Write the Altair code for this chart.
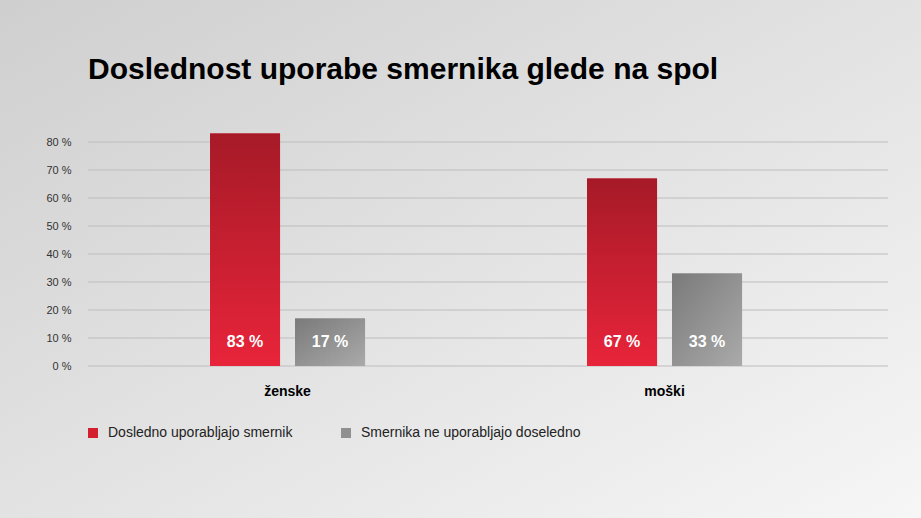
import altair as alt
import pandas as pd

# ---- data ----
categories = ["ženske", "moški"]
series = ["Dosledno uporabljajo smernik", "Smernika ne uporabljajo doseledno"]
values_dosledno = [83, 67]
values_ne = [17, 33]
y_ticks = [0, 10, 20, 30, 40, 50, 60, 70, 80]

rows = []
for c, a, b in zip(categories, values_dosledno, values_ne):
    rows.append({"spol": c, "serija": series[0], "vrednost": a, "oznaka": f"{a} %"})
    rows.append({"spol": c, "serija": series[1], "vrednost": b, "oznaka": f"{b} %"})
df = pd.DataFrame(rows)
grid_df = pd.DataFrame({"vrednost": y_ticks})

W, H = 800, 224
PADL, PADT = 88, 142
FONT = "Liberation Sans"

x_enc = alt.X("spol:N", sort=categories, title=None,
              scale=alt.Scale(paddingInner=0, paddingOuter=0.061, align=0.24),
              axis=alt.Axis(labelFontSize=14, labelFontWeight="bold", labelColor="#000000",
                            labelFont=FONT, labelPadding=18, ticks=False, domain=False,
                            labelAngle=0, zindex=1))
xoff_enc = alt.XOffset("serija:N", sort=series,
                       scale=alt.Scale(range=[111, 266], paddingInner=0.1765, paddingOuter=0))
y_scale = alt.Scale(domain=[0, 80], nice=False)
y_axis = alt.Axis(values=y_ticks, labelExpr="datum.value + ' %'",
                  labelFontSize=11, labelColor="#333333", labelFont=FONT,
                  labelPadding=17, ticks=False, domain=False,
                  labelOverlap=False, grid=False, zindex=1)
y_enc = alt.Y("vrednost:Q", title=None, scale=y_scale, axis=y_axis)

bg = alt.Chart(pd.DataFrame({"a": [0]})).mark_rect(
    fill=alt.Gradient(gradient="linear", x1=0, y1=0, x2=1, y2=1,
                      stops=[alt.GradientStop(color="#cfcfcf", offset=0),
                             alt.GradientStop(color="#f6f6f6", offset=1)])
).encode(x=alt.value(-PADL), x2=alt.value(921 - PADL),
         y=alt.value(-PADT), y2=alt.value(518 - PADT))

grid = alt.Chart(grid_df).mark_rule(color="#bdbdbd", strokeWidth=1).encode(y=y_enc)

base = alt.Chart(df)

legend_bars = base.mark_bar().encode(
    x=x_enc, xOffset=xoff_enc, y=y_enc,
    color=alt.Color("serija:N", sort=series, title=None,
                    scale=alt.Scale(domain=series, range=["#d3202f", "#909090"]),
                    legend=alt.Legend(orient="none", legendX=-2, legendY=284,
                                      direction="horizontal", columns=2,
                                      symbolType="square", symbolSize=100,
                                      symbolStrokeWidth=0, labelFontSize=14,
                                      labelFont=FONT, labelColor="#222222",
                                      labelLimit=400,
                                      labelOffset=8, columnPadding=46)),
)

red_bars = base.transform_filter(alt.datum.serija == series[0]).mark_bar(
    color=alt.Gradient(gradient="linear", x1=0, y1=0, x2=0, y2=1,
                       stops=[alt.GradientStop(color="#a61a27", offset=0),
                              alt.GradientStop(color="#e8243a", offset=1)])
).encode(x=x_enc, xOffset=xoff_enc, y=y_enc)

gray_bars = base.transform_filter(alt.datum.serija == series[1]).mark_bar(
    color=alt.Gradient(gradient="linear", x1=0, y1=0, x2=1, y2=1,
                       stops=[alt.GradientStop(color="#7a7a7a", offset=0),
                              alt.GradientStop(color="#aaaaaa", offset=1)])
).encode(x=x_enc, xOffset=xoff_enc, y=y_enc)

labels = base.mark_text(color="white", fontSize=16, fontWeight="bold", font=FONT,
                        baseline="middle", dy=-24).encode(
    x=x_enc, xOffset=xoff_enc,
    y=alt.Y(datum=0, title=None, scale=y_scale, axis=y_axis),
    text="oznaka:N")

chart = alt.layer(bg, grid, legend_bars, red_bars, gray_bars, labels).properties(
    width=W, height=H,
    title=alt.TitleParams("Doslednost uporabe smernika glede na spol",
                          anchor="start", fontSize=30, fontWeight="bold",
                          font=FONT, color="#000000", baseline="alphabetic",
                          offset=0, dy=109, frame="group"),
    autosize=alt.AutoSizeParams(type="none"),
    padding={"left": PADL, "top": PADT, "right": 33, "bottom": 152},
).configure_view(stroke=None).configure(background="#e4e4e4")

chart.save("out.html", embed_options={"renderer": "svg", "actions": False})
